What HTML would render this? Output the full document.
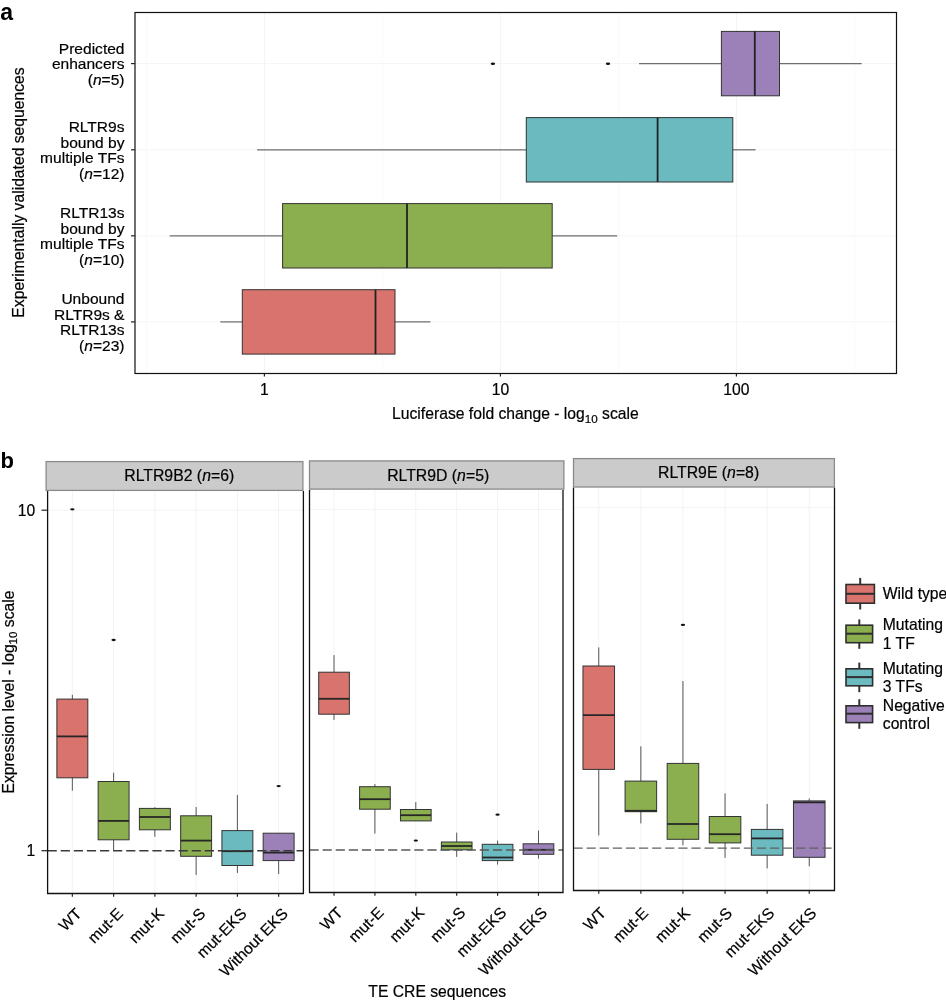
<!DOCTYPE html>
<html><head><meta charset="utf-8"><style>
html,body{margin:0;padding:0;background:#fff;}
svg{display:block;font-family:"Liberation Sans", sans-serif;}
svg{will-change:transform;}
text{fill:#000;stroke:#000;stroke-width:0.2px;}
</style></head><body>
<svg width="946" height="1000" viewBox="0 0 946 1000">
<rect width="946" height="1000" fill="#fff"/>
<line x1="146.40" y1="12.5" x2="146.40" y2="373.5" stroke="#fafafa" stroke-width="1"/>
<line x1="264.40" y1="12.5" x2="264.40" y2="373.5" stroke="#f3f3f3" stroke-width="1"/>
<line x1="382.40" y1="12.5" x2="382.40" y2="373.5" stroke="#fafafa" stroke-width="1"/>
<line x1="500.40" y1="12.5" x2="500.40" y2="373.5" stroke="#f3f3f3" stroke-width="1"/>
<line x1="618.40" y1="12.5" x2="618.40" y2="373.5" stroke="#fafafa" stroke-width="1"/>
<line x1="736.40" y1="12.5" x2="736.40" y2="373.5" stroke="#f3f3f3" stroke-width="1"/>
<line x1="854.40" y1="12.5" x2="854.40" y2="373.5" stroke="#fafafa" stroke-width="1"/>
<line x1="135" y1="63.6" x2="896.5" y2="63.6" stroke="#f6f6f6" stroke-width="1"/>
<line x1="135" y1="149.8" x2="896.5" y2="149.8" stroke="#f6f6f6" stroke-width="1"/>
<line x1="135" y1="235.8" x2="896.5" y2="235.8" stroke="#f6f6f6" stroke-width="1"/>
<line x1="135" y1="321.9" x2="896.5" y2="321.9" stroke="#f6f6f6" stroke-width="1"/>
<line x1="639" y1="63.6" x2="721.4" y2="63.6" stroke="#6e6e6e" stroke-width="1.25"/>
<line x1="779.5" y1="63.6" x2="861.6" y2="63.6" stroke="#6e6e6e" stroke-width="1.25"/>
<rect x="721.4" y="31.40" width="58.10" height="64.40" fill="#9c80b8" stroke="#333333" stroke-width="1"/>
<line x1="754.8" y1="31.40" x2="754.8" y2="95.80" stroke="#222" stroke-width="1.8"/>
<ellipse cx="492.9" cy="63.800000000000004" rx="2.2" ry="1.3" fill="#111"/>
<ellipse cx="608" cy="63.800000000000004" rx="2.2" ry="1.3" fill="#111"/>
<line x1="257.1" y1="149.8" x2="526.3" y2="149.8" stroke="#6e6e6e" stroke-width="1.25"/>
<line x1="732.8" y1="149.8" x2="755.6" y2="149.8" stroke="#6e6e6e" stroke-width="1.25"/>
<rect x="526.3" y="117.60" width="206.50" height="64.40" fill="#6bbac0" stroke="#333333" stroke-width="1"/>
<line x1="657.6" y1="117.60" x2="657.6" y2="182.00" stroke="#222" stroke-width="1.8"/>
<line x1="169.7" y1="235.8" x2="282.6" y2="235.8" stroke="#6e6e6e" stroke-width="1.25"/>
<line x1="552.2" y1="235.8" x2="617.2" y2="235.8" stroke="#6e6e6e" stroke-width="1.25"/>
<rect x="282.6" y="203.60" width="269.60" height="64.40" fill="#8bae4e" stroke="#333333" stroke-width="1"/>
<line x1="407" y1="203.60" x2="407" y2="268.00" stroke="#222" stroke-width="1.8"/>
<line x1="220.3" y1="321.9" x2="242.3" y2="321.9" stroke="#6e6e6e" stroke-width="1.25"/>
<line x1="395" y1="321.9" x2="430.4" y2="321.9" stroke="#6e6e6e" stroke-width="1.25"/>
<rect x="242.3" y="289.70" width="152.70" height="64.40" fill="#d9736d" stroke="#333333" stroke-width="1"/>
<line x1="375.5" y1="289.70" x2="375.5" y2="354.10" stroke="#222" stroke-width="1.8"/>
<rect x="135" y="12.5" width="761.5" height="361.00" fill="none" stroke="#111" stroke-width="1.2"/>
<line x1="131" y1="63.6" x2="135" y2="63.6" stroke="#222" stroke-width="1.2"/>
<line x1="131" y1="149.8" x2="135" y2="149.8" stroke="#222" stroke-width="1.2"/>
<line x1="131" y1="235.8" x2="135" y2="235.8" stroke="#222" stroke-width="1.2"/>
<line x1="131" y1="321.9" x2="135" y2="321.9" stroke="#222" stroke-width="1.2"/>
<line x1="264.40" y1="373.5" x2="264.40" y2="376.5" stroke="#222" stroke-width="1.2"/>
<text x="264.40" y="395.4" text-anchor="middle" font-size="15.7">1</text>
<line x1="500.40" y1="373.5" x2="500.40" y2="376.5" stroke="#222" stroke-width="1.2"/>
<text x="500.40" y="395.4" text-anchor="middle" font-size="15.7">10</text>
<line x1="736.40" y1="373.5" x2="736.40" y2="376.5" stroke="#222" stroke-width="1.2"/>
<text x="736.40" y="395.4" text-anchor="middle" font-size="15.7">100</text>
<text x="515.4" y="418.8" text-anchor="middle" font-size="15.7">Luciferase fold change - log<tspan font-size="11.6" dy="3.8">10</tspan><tspan dy="-3.8"> scale</tspan></text>
<text transform="translate(24.2,192.5) rotate(-90)" text-anchor="middle" font-size="15.7">Experimentally validated sequences</text>
<text x="124.5" y="53.60" text-anchor="end" font-size="15.55">Predicted</text>
<text x="124.5" y="69.10" text-anchor="end" font-size="15.55">enhancers</text>
<text x="124.5" y="84.60" text-anchor="end" font-size="15.55">(<tspan font-style="italic">n</tspan>=5)</text>
<text x="124.5" y="132.05" text-anchor="end" font-size="15.55">RLTR9s</text>
<text x="124.5" y="147.55" text-anchor="end" font-size="15.55">bound by</text>
<text x="124.5" y="163.05" text-anchor="end" font-size="15.55">multiple TFs</text>
<text x="124.5" y="178.55" text-anchor="end" font-size="15.55">(<tspan font-style="italic">n</tspan>=12)</text>
<text x="124.5" y="218.05" text-anchor="end" font-size="15.55">RLTR13s</text>
<text x="124.5" y="233.55" text-anchor="end" font-size="15.55">bound by</text>
<text x="124.5" y="249.05" text-anchor="end" font-size="15.55">multiple TFs</text>
<text x="124.5" y="264.55" text-anchor="end" font-size="15.55">(<tspan font-style="italic">n</tspan>=10)</text>
<text x="124.5" y="304.15" text-anchor="end" font-size="15.55">Unbound</text>
<text x="124.5" y="319.65" text-anchor="end" font-size="15.55">RLTR9s &amp;</text>
<text x="124.5" y="335.15" text-anchor="end" font-size="15.55">RLTR13s</text>
<text x="124.5" y="350.65" text-anchor="end" font-size="15.55">(<tspan font-style="italic">n</tspan>=23)</text>
<text x="0.3" y="19.6" font-size="23" font-weight="bold" style="stroke-width:0">a</text>
<text x="0.5" y="467.5" font-size="22" font-weight="bold" style="stroke-width:0">b</text>
<line x1="72.35" y1="491" x2="72.35" y2="893.5" stroke="#f3f3f3" stroke-width="1"/>
<line x1="113.61" y1="491" x2="113.61" y2="893.5" stroke="#f3f3f3" stroke-width="1"/>
<line x1="154.87" y1="491" x2="154.87" y2="893.5" stroke="#f3f3f3" stroke-width="1"/>
<line x1="196.13" y1="491" x2="196.13" y2="893.5" stroke="#f3f3f3" stroke-width="1"/>
<line x1="237.39" y1="491" x2="237.39" y2="893.5" stroke="#f3f3f3" stroke-width="1"/>
<line x1="278.65" y1="491" x2="278.65" y2="893.5" stroke="#f3f3f3" stroke-width="1"/>
<line x1="47.6" y1="510.10" x2="303.4" y2="510.10" stroke="#f3f3f3" stroke-width="1"/>
<line x1="72.35" y1="694.8" x2="72.35" y2="790.7" stroke="#555" stroke-width="1"/>
<rect x="56.88" y="699.1" width="30.94" height="78.70" fill="#d9736d" stroke="#333333" stroke-width="1"/>
<line x1="56.88" y1="736.4" x2="87.83" y2="736.4" stroke="#262626" stroke-width="1.8"/>
<ellipse cx="72.35" cy="509.3" rx="2.2" ry="1.15" fill="#111"/>
<line x1="113.61" y1="772.7" x2="113.61" y2="850.6" stroke="#555" stroke-width="1"/>
<rect x="98.14" y="781.5" width="30.94" height="58.30" fill="#8bae4e" stroke="#333333" stroke-width="1"/>
<line x1="98.14" y1="820.9" x2="129.08" y2="820.9" stroke="#262626" stroke-width="1.8"/>
<ellipse cx="113.61" cy="640" rx="2.2" ry="1.15" fill="#111"/>
<line x1="154.87" y1="807.2" x2="154.87" y2="836.9" stroke="#555" stroke-width="1"/>
<rect x="139.40" y="808.4" width="30.94" height="21.40" fill="#8bae4e" stroke="#333333" stroke-width="1"/>
<line x1="139.40" y1="817" x2="170.34" y2="817" stroke="#262626" stroke-width="1.8"/>
<line x1="196.13" y1="807" x2="196.13" y2="874.9" stroke="#555" stroke-width="1"/>
<rect x="180.66" y="815.8" width="30.94" height="40.50" fill="#8bae4e" stroke="#333333" stroke-width="1"/>
<line x1="180.66" y1="840.6" x2="211.60" y2="840.6" stroke="#262626" stroke-width="1.8"/>
<line x1="237.39" y1="795" x2="237.39" y2="872.9" stroke="#555" stroke-width="1"/>
<rect x="221.92" y="830.6" width="30.94" height="34.90" fill="#6bbac0" stroke="#333333" stroke-width="1"/>
<line x1="221.92" y1="851.2" x2="252.86" y2="851.2" stroke="#262626" stroke-width="1.8"/>
<line x1="278.65" y1="833.2" x2="278.65" y2="874" stroke="#555" stroke-width="1"/>
<rect x="263.17" y="833.2" width="30.94" height="27.40" fill="#9c80b8" stroke="#333333" stroke-width="1"/>
<line x1="263.17" y1="852.6" x2="294.12" y2="852.6" stroke="#262626" stroke-width="1.8"/>
<ellipse cx="278.65" cy="786.1" rx="2.2" ry="1.15" fill="#111"/>
<line x1="47.6" y1="850.7" x2="303.4" y2="850.7" stroke="#3a3a3a" stroke-width="1.4" stroke-dasharray="9.2 3.9"/>
<path d="M47.6,491 V893.5 H303.4 V491" fill="none" stroke="#111" stroke-width="1.3"/>
<rect x="46.1" y="461.6" width="256.80" height="28.80" fill="#cbcbcb" stroke="#8a8a8a" stroke-width="1.3"/>
<text x="179.25" y="481.2" text-anchor="middle" font-size="15.8">RLTR9B2 (<tspan font-style="italic">n</tspan>=6)</text>
<line x1="72.35" y1="893.5" x2="72.35" y2="896.80" stroke="#222" stroke-width="1.2"/>
<text transform="translate(82.55,914.70) rotate(-45)" text-anchor="end" font-size="15.7">WT</text>
<line x1="113.61" y1="893.5" x2="113.61" y2="896.80" stroke="#222" stroke-width="1.2"/>
<text transform="translate(123.81,914.70) rotate(-45)" text-anchor="end" font-size="15.7">mut-E</text>
<line x1="154.87" y1="893.5" x2="154.87" y2="896.80" stroke="#222" stroke-width="1.2"/>
<text transform="translate(165.07,914.70) rotate(-45)" text-anchor="end" font-size="15.7">mut-K</text>
<line x1="196.13" y1="893.5" x2="196.13" y2="896.80" stroke="#222" stroke-width="1.2"/>
<text transform="translate(206.33,914.70) rotate(-45)" text-anchor="end" font-size="15.7">mut-S</text>
<line x1="237.39" y1="893.5" x2="237.39" y2="896.80" stroke="#222" stroke-width="1.2"/>
<text transform="translate(247.59,914.70) rotate(-45)" text-anchor="end" font-size="15.7">mut-EKS</text>
<line x1="278.65" y1="893.5" x2="278.65" y2="896.80" stroke="#222" stroke-width="1.2"/>
<text transform="translate(288.85,914.70) rotate(-45)" text-anchor="end" font-size="15.7">Without EKS</text>
<line x1="334.03" y1="489.7" x2="334.03" y2="892.5" stroke="#f3f3f3" stroke-width="1"/>
<line x1="374.92" y1="489.7" x2="374.92" y2="892.5" stroke="#f3f3f3" stroke-width="1"/>
<line x1="415.81" y1="489.7" x2="415.81" y2="892.5" stroke="#f3f3f3" stroke-width="1"/>
<line x1="456.69" y1="489.7" x2="456.69" y2="892.5" stroke="#f3f3f3" stroke-width="1"/>
<line x1="497.58" y1="489.7" x2="497.58" y2="892.5" stroke="#f3f3f3" stroke-width="1"/>
<line x1="538.47" y1="489.7" x2="538.47" y2="892.5" stroke="#f3f3f3" stroke-width="1"/>
<line x1="309.5" y1="509.40" x2="563.0" y2="509.40" stroke="#f3f3f3" stroke-width="1"/>
<line x1="334.03" y1="655.1" x2="334.03" y2="719.9" stroke="#555" stroke-width="1"/>
<rect x="318.70" y="672.2" width="30.67" height="42.00" fill="#d9736d" stroke="#333333" stroke-width="1"/>
<line x1="318.70" y1="698.8" x2="349.36" y2="698.8" stroke="#262626" stroke-width="1.8"/>
<line x1="374.92" y1="784.1" x2="374.92" y2="833.5" stroke="#555" stroke-width="1"/>
<rect x="359.59" y="786.7" width="30.67" height="22.50" fill="#8bae4e" stroke="#333333" stroke-width="1"/>
<line x1="359.59" y1="799.2" x2="390.25" y2="799.2" stroke="#262626" stroke-width="1.8"/>
<line x1="415.81" y1="802.1" x2="415.81" y2="820.9" stroke="#555" stroke-width="1"/>
<rect x="400.47" y="809.5" width="30.67" height="11.40" fill="#8bae4e" stroke="#333333" stroke-width="1"/>
<line x1="400.47" y1="815.2" x2="431.14" y2="815.2" stroke="#262626" stroke-width="1.8"/>
<ellipse cx="415.81" cy="840.6" rx="2.2" ry="1.15" fill="#111"/>
<line x1="456.69" y1="832.6" x2="456.69" y2="856.9" stroke="#555" stroke-width="1"/>
<rect x="441.36" y="842" width="30.67" height="7.80" fill="#8bae4e" stroke="#333333" stroke-width="1"/>
<line x1="441.36" y1="846" x2="472.03" y2="846" stroke="#262626" stroke-width="1.8"/>
<line x1="497.58" y1="840.6" x2="497.58" y2="864.6" stroke="#555" stroke-width="1"/>
<rect x="482.25" y="844.3" width="30.67" height="16.30" fill="#6bbac0" stroke="#333333" stroke-width="1"/>
<line x1="482.25" y1="857.5" x2="512.91" y2="857.5" stroke="#262626" stroke-width="1.8"/>
<ellipse cx="497.58" cy="814.7" rx="2.2" ry="1.15" fill="#111"/>
<line x1="538.47" y1="830.6" x2="538.47" y2="858.6" stroke="#555" stroke-width="1"/>
<rect x="523.14" y="843.8" width="30.67" height="10.50" fill="#9c80b8" stroke="#333333" stroke-width="1"/>
<line x1="523.14" y1="849.8" x2="553.80" y2="849.8" stroke="#262626" stroke-width="1.8"/>
<line x1="309.5" y1="850.0" x2="563.0" y2="850.0" stroke="#5a5a5a" stroke-width="1.4" stroke-dasharray="9.2 3.9"/>
<path d="M309.5,489.7 V892.5 H563.0 V489.7" fill="none" stroke="#111" stroke-width="1.3"/>
<rect x="309.5" y="460.90000000000003" width="254.40" height="28.20" fill="#cbcbcb" stroke="#8a8a8a" stroke-width="1.3"/>
<text x="438.2" y="481" text-anchor="middle" font-size="15.8">RLTR9D (<tspan font-style="italic">n</tspan>=5)</text>
<line x1="334.03" y1="892.5" x2="334.03" y2="895.80" stroke="#222" stroke-width="1.2"/>
<text transform="translate(343.73,913.70) rotate(-45)" text-anchor="end" font-size="15.7">WT</text>
<line x1="374.92" y1="892.5" x2="374.92" y2="895.80" stroke="#222" stroke-width="1.2"/>
<text transform="translate(384.62,913.70) rotate(-45)" text-anchor="end" font-size="15.7">mut-E</text>
<line x1="415.81" y1="892.5" x2="415.81" y2="895.80" stroke="#222" stroke-width="1.2"/>
<text transform="translate(425.51,913.70) rotate(-45)" text-anchor="end" font-size="15.7">mut-K</text>
<line x1="456.69" y1="892.5" x2="456.69" y2="895.80" stroke="#222" stroke-width="1.2"/>
<text transform="translate(466.39,913.70) rotate(-45)" text-anchor="end" font-size="15.7">mut-S</text>
<line x1="497.58" y1="892.5" x2="497.58" y2="895.80" stroke="#222" stroke-width="1.2"/>
<text transform="translate(507.28,913.70) rotate(-45)" text-anchor="end" font-size="15.7">mut-EKS</text>
<line x1="538.47" y1="892.5" x2="538.47" y2="895.80" stroke="#222" stroke-width="1.2"/>
<text transform="translate(548.17,913.70) rotate(-45)" text-anchor="end" font-size="15.7">Without EKS</text>
<line x1="598.76" y1="487.6" x2="598.76" y2="890.5" stroke="#f3f3f3" stroke-width="1"/>
<line x1="640.85" y1="487.6" x2="640.85" y2="890.5" stroke="#f3f3f3" stroke-width="1"/>
<line x1="682.95" y1="487.6" x2="682.95" y2="890.5" stroke="#f3f3f3" stroke-width="1"/>
<line x1="725.05" y1="487.6" x2="725.05" y2="890.5" stroke="#f3f3f3" stroke-width="1"/>
<line x1="767.15" y1="487.6" x2="767.15" y2="890.5" stroke="#f3f3f3" stroke-width="1"/>
<line x1="809.24" y1="487.6" x2="809.24" y2="890.5" stroke="#f3f3f3" stroke-width="1"/>
<line x1="573.5" y1="507.50" x2="834.5" y2="507.50" stroke="#f3f3f3" stroke-width="1"/>
<line x1="598.76" y1="647.4" x2="598.76" y2="835.4" stroke="#555" stroke-width="1"/>
<rect x="582.97" y="666" width="31.57" height="103.40" fill="#d9736d" stroke="#333333" stroke-width="1"/>
<line x1="582.97" y1="715.2" x2="614.54" y2="715.2" stroke="#262626" stroke-width="1.8"/>
<line x1="640.85" y1="746.3" x2="640.85" y2="823.4" stroke="#555" stroke-width="1"/>
<rect x="625.07" y="781.1" width="31.57" height="30.60" fill="#8bae4e" stroke="#333333" stroke-width="1"/>
<line x1="625.07" y1="810.8" x2="656.64" y2="810.8" stroke="#262626" stroke-width="1.8"/>
<line x1="682.95" y1="681" x2="682.95" y2="845.3" stroke="#555" stroke-width="1"/>
<rect x="667.17" y="763.4" width="31.57" height="75.90" fill="#8bae4e" stroke="#333333" stroke-width="1"/>
<line x1="667.17" y1="824" x2="698.74" y2="824" stroke="#262626" stroke-width="1.8"/>
<ellipse cx="682.95" cy="624.9" rx="2.2" ry="1.15" fill="#111"/>
<line x1="725.05" y1="793.4" x2="725.05" y2="857.9" stroke="#555" stroke-width="1"/>
<rect x="709.26" y="816.5" width="31.57" height="26.40" fill="#8bae4e" stroke="#333333" stroke-width="1"/>
<line x1="709.26" y1="834.2" x2="740.83" y2="834.2" stroke="#262626" stroke-width="1.8"/>
<line x1="767.15" y1="803.9" x2="767.15" y2="868.4" stroke="#555" stroke-width="1"/>
<rect x="751.36" y="829.4" width="31.57" height="25.80" fill="#6bbac0" stroke="#333333" stroke-width="1"/>
<line x1="751.36" y1="838.4" x2="782.93" y2="838.4" stroke="#262626" stroke-width="1.8"/>
<line x1="809.24" y1="798.5" x2="809.24" y2="866.3" stroke="#555" stroke-width="1"/>
<rect x="793.46" y="800.9" width="31.57" height="56.40" fill="#9c80b8" stroke="#333333" stroke-width="1"/>
<line x1="793.46" y1="802.4" x2="825.03" y2="802.4" stroke="#262626" stroke-width="1.8"/>
<line x1="573.5" y1="848.1" x2="834.5" y2="848.1" stroke="#606060" stroke-width="1.4" stroke-dasharray="9.2 3.9"/>
<path d="M573.5,487.6 V890.5 H834.5 V487.6" fill="none" stroke="#111" stroke-width="1.3"/>
<rect x="573.5" y="458.6" width="260.90" height="28.40" fill="#cbcbcb" stroke="#8a8a8a" stroke-width="1.3"/>
<text x="708.6" y="477.9" text-anchor="middle" font-size="15.8">RLTR9E (<tspan font-style="italic">n</tspan>=8)</text>
<line x1="598.76" y1="890.5" x2="598.76" y2="893.80" stroke="#222" stroke-width="1.2"/>
<text transform="translate(606.96,914.00) rotate(-45)" text-anchor="end" font-size="15.7">WT</text>
<line x1="640.85" y1="890.5" x2="640.85" y2="893.80" stroke="#222" stroke-width="1.2"/>
<text transform="translate(649.05,914.00) rotate(-45)" text-anchor="end" font-size="15.7">mut-E</text>
<line x1="682.95" y1="890.5" x2="682.95" y2="893.80" stroke="#222" stroke-width="1.2"/>
<text transform="translate(691.15,914.00) rotate(-45)" text-anchor="end" font-size="15.7">mut-K</text>
<line x1="725.05" y1="890.5" x2="725.05" y2="893.80" stroke="#222" stroke-width="1.2"/>
<text transform="translate(733.25,914.00) rotate(-45)" text-anchor="end" font-size="15.7">mut-S</text>
<line x1="767.15" y1="890.5" x2="767.15" y2="893.80" stroke="#222" stroke-width="1.2"/>
<text transform="translate(775.35,914.00) rotate(-45)" text-anchor="end" font-size="15.7">mut-EKS</text>
<line x1="809.24" y1="890.5" x2="809.24" y2="893.80" stroke="#222" stroke-width="1.2"/>
<text transform="translate(817.44,914.00) rotate(-45)" text-anchor="end" font-size="15.7">Without EKS</text>
<line x1="41.5" y1="510.2" x2="47.7" y2="510.2" stroke="#222" stroke-width="1.2"/>
<line x1="41.5" y1="850.7" x2="47.7" y2="850.7" stroke="#222" stroke-width="1.2"/>
<text x="35.2" y="515.6" text-anchor="end" font-size="15.7">10</text>
<text x="35.2" y="856" text-anchor="end" font-size="15.7">1</text>
<text transform="translate(13.6,692) rotate(-90)" text-anchor="middle" font-size="15.7">Expression level - log<tspan font-size="11.6" dy="3.8">10</tspan><tspan dy="-3.8"> scale</tspan></text>
<text x="437.2" y="997.0" text-anchor="middle" font-size="15.7">TE CRE sequences</text>
<line x1="860.20" y1="577.9" x2="860.20" y2="609.5" stroke="#333" stroke-width="2"/>
<rect x="846" y="584.5" width="28.4" height="18.70" fill="#d9736d" stroke="#2e2e2e" stroke-width="1.6"/>
<line x1="846" y1="593.8" x2="874.4" y2="593.8" stroke="#2e2e2e" stroke-width="2"/>
<text x="882.8" y="599.30" font-size="15.7">Wild type</text>
<line x1="859.30" y1="619.4" x2="859.30" y2="648.8" stroke="#333" stroke-width="2"/>
<rect x="846" y="625.1999999999999" width="26.6" height="17.50" fill="#8bae4e" stroke="#2e2e2e" stroke-width="1.6"/>
<line x1="846" y1="633.7" x2="872.6" y2="633.7" stroke="#2e2e2e" stroke-width="2"/>
<text x="882.8" y="630.10" font-size="15.7">Mutating</text>
<text x="882.8" y="648.50" font-size="15.7">1 TF</text>
<line x1="859.30" y1="662.6" x2="859.30" y2="692.2" stroke="#333" stroke-width="2"/>
<rect x="846" y="668.8" width="26.6" height="17.00" fill="#6bbac0" stroke="#2e2e2e" stroke-width="1.6"/>
<line x1="846" y1="677.1" x2="872.6" y2="677.1" stroke="#2e2e2e" stroke-width="2"/>
<text x="882.8" y="673.80" font-size="15.7">Mutating</text>
<text x="882.8" y="692.20" font-size="15.7">3 TFs</text>
<line x1="859.30" y1="699.2" x2="859.30" y2="728.8" stroke="#333" stroke-width="2"/>
<rect x="846" y="705.8" width="26.6" height="16.80" fill="#9c80b8" stroke="#2e2e2e" stroke-width="1.6"/>
<line x1="846" y1="713.7" x2="872.6" y2="713.7" stroke="#2e2e2e" stroke-width="2"/>
<text x="882.8" y="710.70" font-size="15.7">Negative</text>
<text x="882.8" y="729.10" font-size="15.7">control</text>
</svg>
</body></html>
